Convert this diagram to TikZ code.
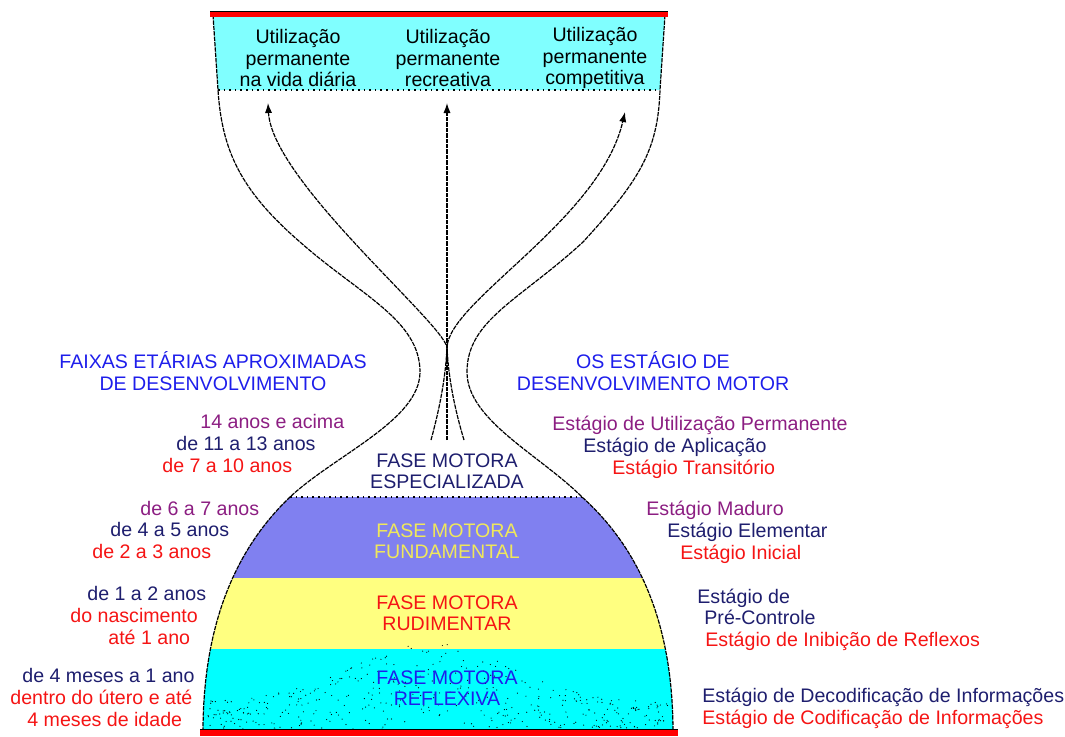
\documentclass[tikz,border=0pt]{standalone}
\usepackage{fontspec}
\setmainfont{Liberation Sans}
\usetikzlibrary{arrows.meta}

\definecolor{txtpurple}{RGB}{140,30,130}
\definecolor{txtnavy}{RGB}{30,30,110}
\definecolor{txtred}{RGB}{245,20,20}
\definecolor{txtblue}{RGB}{30,30,235}
\definecolor{txtyellow}{RGB}{240,232,90}
\definecolor{bandblue}{RGB}{128,128,240}
\definecolor{bandyellow}{RGB}{255,255,128}
\definecolor{bandcyan}{RGB}{0,255,255}
\definecolor{boxcyan}{RGB}{128,255,255}

\begin{document}
\begin{tikzpicture}[x=0.5pt,y=-0.5pt,
    lbl/.style={inner sep=0pt,anchor=base west,font=\fontsize{9.8}{11}\selectfont},
    ctr/.style={inner sep=0pt,align=center,font=\fontsize{9.8}{10.6}\selectfont},
    rim/.style={line width=0.6pt,dash pattern=on 2.2pt off 0.5pt},
    tip/.style={-{Latex[length=5pt,width=3.6pt]}}]
    \useasboundingbox (0,0) rectangle (1065,736);

    % bands of the lower bulb
    \begin{scope}
      \clip (203,732) .. controls (203,610) and (245,540) .. (290,497) -- (582,497)
            .. controls (630,540) and (673,610) .. (673,732) -- cycle;
      \fill[bandblue] (150,497) rectangle (720,578);
      \fill[bandyellow] (150,578) rectangle (720,649);
      \fill[bandcyan] (150,649) rectangle (720,736);
      \pgfmathsetseed{12}
      \foreach \i in {1,...,450}{
        \pgfmathsetmacro{\px}{205+470*rnd}
        \pgfmathsetmacro{\py}{732-(30+60*exp(-((\px-430)/110)^2))*rnd}
        \fill[black] (\px,\py) circle (0.6);
      }
    \end{scope}

    % top box
    \fill[boxcyan] (213,15) -- (665,15) -- (660,90) -- (218,90) -- cycle;
    \draw[dotted,line width=0.8pt] (218,90) -- (660,90);
    \draw[dotted,line width=0.8pt] (290,497) -- (582,497);

    % outline of the hourglass
    \draw[rim] (213,15) -- (218,90) .. controls (222,150) and (240,190) .. (300,242)
        .. controls (360,295) and (420,320) .. (420,372)
        .. controls (420,420) and (335,455) .. (290,497)
        .. controls (245,540) and (203,610) .. (203,732);
    \draw[rim] (665,15) -- (660,90) .. controls (658,150) and (640,180) .. (583,242)
        .. controls (520,300) and (467,320) .. (467,372)
        .. controls (467,420) and (540,455) .. (582,497)
        .. controls (630,540) and (673,610) .. (673,732);

    % red bars
    \fill[red] (210,11) rectangle (668,17);
    \draw[line width=0.5pt] (210,11) -- (668,11);
    \fill[red] (200,729) rectangle (678,736);
    \draw[line width=0.5pt] (200,729) -- (678,729);

    % arrows
    \coordinate (S1) at (464,440);
    \coordinate (S2) at (447,440);
    \coordinate (S3) at (431,440);
    \coordinate (M) at (447,347);
    \coordinate (E1) at (268,103);
    \coordinate (E2) at (447,103);
    \coordinate (E3) at (625,112);
    \draw[rim,tip] (S1) .. controls (452,400) and (448,370) .. (M)
        .. controls (440,320) and (272,180) .. (E1);
    \draw[rim,tip] (S2) -- (E2);
    \draw[rim,tip] (S3) .. controls (442,400) and (446,370) .. (M)
        .. controls (450,300) and (600,220) .. (E3);

    % box texts
    \node[ctr] (U1) at (298,58) {Utilização\\permanente\\na vida diária};
    \node[ctr] (U2) at (448,58) {Utilização\\permanente\\recreativa};
    \node[ctr] (U3) at (595,58) {Utilização\\permanente\\competitiva};

    % headings
    \node[ctr,txtblue] (H1) at (213,371) {FAIXAS ETÁRIAS APROXIMADAS\\DE DESENVOLVIMENTO};
    \node[ctr,txtblue] (H2) at (653,371) {OS ESTÁGIO DE\\DESENVOLVIMENTO MOTOR};

    % phases
    \node[ctr,txtnavy] (F1) at (447,471) {FASE MOTORA\\ESPECIALIZADA};
    \node[ctr,txtyellow] (F2) at (447,541) {FASE MOTORA\\FUNDAMENTAL};
    \node[ctr,txtred] (F3) at (447,613) {FASE MOTORA\\RUDIMENTAR};
    \node[ctr,txtblue] (F4) at (447,688) {FASE MOTORA\\REFLEXIVA};

    % ages
    \node[lbl,txtpurple] (L1) at (200,428) {14 anos e acima};
    \node[lbl,txtnavy] (L2) at (176,450) {de 11 a 13 anos};
    \node[lbl,txtred] (L3) at (162,472) {de 7 a 10 anos};
    \node[lbl,txtpurple] (L4) at (140,515) {de 6 a 7 anos};
    \node[lbl,txtnavy] (L5) at (110,536) {de 4 a 5 anos};
    \node[lbl,txtred] (L6) at (92,558) {de 2 a 3 anos};
    \node[lbl,txtnavy] (L7) at (87,600) {de 1 a 2 anos};
    \node[lbl,txtred] (L8) at (70,622) {do nascimento};
    \node[lbl,txtred] (L9) at (108,644) {até 1 ano};
    \node[lbl,txtnavy] (L10) at (22,682) {de 4 meses a 1 ano};
    \node[lbl,txtred] (L11) at (10,704) {dentro do útero e até};
    \node[lbl,txtred] (L12) at (27,726) {4 meses de idade};

    % stages
    \node[lbl,txtpurple] (R1) at (552,430) {Estágio de Utilização Permanente};
    \node[lbl,txtnavy] (R2) at (583,452) {Estágio de Aplicação};
    \node[lbl,txtred] (R3) at (612,474) {Estágio Transitório};
    \node[lbl,txtpurple] (R4) at (646,515) {Estágio Maduro};
    \node[lbl,txtnavy] (R5) at (667,537) {Estágio Elementar};
    \node[lbl,txtred] (R6) at (680,559) {Estágio Inicial};
    \node[lbl,txtnavy] (R7) at (697,603) {Estágio de};
    \node[lbl,txtnavy] (R8) at (704,624) {Pré-Controle};
    \node[lbl,txtred] (R9) at (705,646) {Estágio de Inibição de Reflexos};
    \node[lbl,txtnavy] (R10) at (702,702) {Estágio de Decodificação de Informações};
    \node[lbl,txtred] (R11) at (702,724) {Estágio de Codificação de Informações};
\end{tikzpicture}
\end{document}
